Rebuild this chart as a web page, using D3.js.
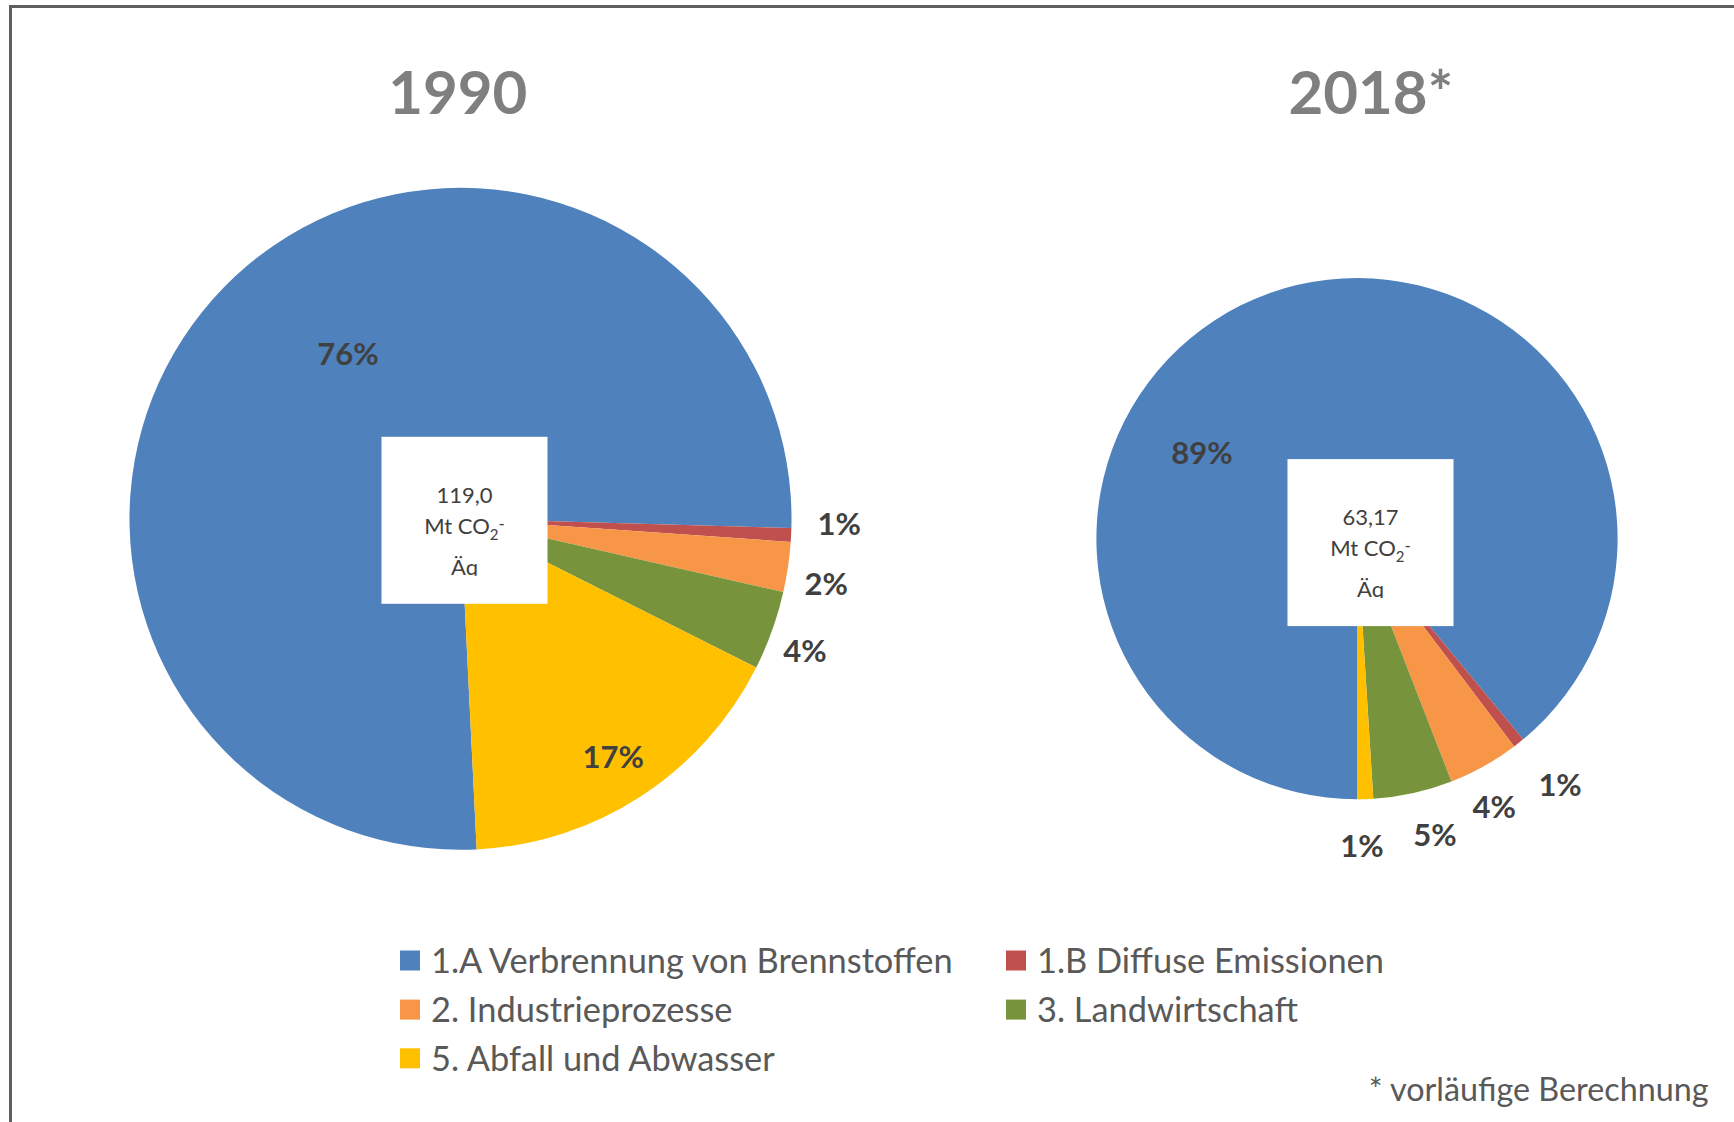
<!DOCTYPE html>
<html>
<head>
<meta charset="utf-8">
<script src="https://cdn.jsdelivr.net/npm/d3@7"></script>
<style>
  html, body { margin: 0; padding: 0; background: #ffffff; }
  svg { display: block; }
</style>
</head>
<body>
<svg id="chart" width="1734" height="1122"></svg>
<script>
// ---------------- data ----------------
const categories = [
  "1.A Verbrennung von Brennstoffen",
  "1.B Diffuse Emissionen",
  "2. Industrieprozesse",
  "3. Landwirtschaft",
  "5. Abfall und Abwasser"
];
const years = ["1990", "2018*"];
const values1990 = [90.7, 0.8, 2.9, 4.6, 20.0];     // Mt CO2-Äq
const values2018 = [56.22, 0.44, 2.78, 3.10, 0.63]; // Mt CO2-Äq
const totalLabels = ["119,0", "63,17"];
const unitLine = ["Mt CO", "2", "-"];
const unitLine2 = "Äq";
const footnote = "* vorläufige Berechnung";

// ---------------- styling / layout ----------------
const colors = ["#4f81bd", "#c0504d", "#f79646", "#77933c", "#ffc000"];
const FONT = "Lato, 'Open Sans', 'DejaVu Sans', sans-serif";
const deg = Math.PI / 180;

const pies = [
  { values: values1990, year: years[0], total: totalLabels[0],
    cx: 460.5, cy: 518.8, r: 331, start: 177.2,
    labelPos: [[0.603, 11.3], [1.144, -2.0], [1.122, 1.7], [1.115, 1.26], [0.856, 0.45]],
    boxDx: 4, boxDy: 1.5, titleX: 457.8 },
  { values: values2018, year: years[1], total: totalLabels[1],
    cx: 1357, cy: 538.6, r: 260.6, start: 180,
    labelPos: [[0.680, -41.3], [1.225, -1.15], [1.156, 2.1], [1.176, -2.3], [1.18, 0.87]],
    boxDx: 13.5, boxDy: 4, titleX: 1370.8 }
];

const svg = d3.select("#chart");
const defs = svg.append("defs");

// frame (top + left lines)
svg.append("line").attr("x1", 10.5).attr("x2", 1734).attr("y1", 6.5).attr("y2", 6.5)
  .attr("stroke", "#5f5f5f").attr("stroke-width", 3);
svg.append("line").attr("x1", 10.5).attr("x2", 10.5).attr("y1", 5).attr("y2", 1122)
  .attr("stroke", "#5f5f5f").attr("stroke-width", 3);

const color = d3.scaleOrdinal().domain(categories).range(colors);

pies.forEach((p, pi) => {
  const total = d3.sum(p.values);
  const pie = d3.pie().sort(null).value(d => d)
    .startAngle(p.start * deg).endAngle(p.start * deg + 2 * Math.PI);
  const arcs = pie(p.values);
  const arc = d3.arc().innerRadius(0).outerRadius(p.r);

  const g = svg.append("g").attr("transform", `translate(${p.cx},${p.cy})`);
  g.selectAll("path.slice").data(arcs).join("path")
    .attr("class", "slice")
    .attr("d", arc)
    .attr("fill", (d, i) => color(categories[i]));

  // percentage labels
  g.selectAll("text.pct").data(arcs).join("text")
    .attr("class", "pct")
    .attr("font-family", FONT)
    .attr("font-weight", "bold")
    .attr("font-size", 31)
    .attr("fill", "#404040")
    .attr("text-anchor", "middle")
    .each(function (d, i) {
      const mid = (d.startAngle + d.endAngle) / 2 + p.labelPos[i][1] * deg;
      const dist = p.labelPos[i][0] * p.r;
      d3.select(this)
        .attr("x", dist * Math.sin(mid))
        .attr("y", -dist * Math.cos(mid) + 11)
        .text(Math.round(d.value / total * 100) + "%");
    });

  // title
  svg.append("text")
    .attr("x", p.titleX).attr("y", 113.9)
    .attr("text-anchor", "middle")
    .attr("font-family", FONT).attr("font-weight", "bold")
    .attr("font-size", 60).attr("fill", "#7f7f7f")
    .text(p.year);

  // centre box
  const bx = p.cx + p.boxDx - 83, by = p.cy + p.boxDy - 83.5;
  svg.append("rect").attr("x", bx).attr("y", by).attr("width", 166).attr("height", 167)
    .attr("fill", "#ffffff");
  const clipId = "clip" + pi;
  defs.append("clipPath").attr("id", clipId).append("rect")
    .attr("x", bx).attr("y", by).attr("width", 166).attr("height", 139);
  const tg = svg.append("g").attr("clip-path", `url(#${clipId})`)
    .attr("font-family", FONT).attr("font-size", 22).attr("fill", "#404040")
    .attr("text-anchor", "middle");
  const tx = bx + 83;
  tg.append("text").attr("x", tx).attr("y", by + 66).text(p.total);
  const t2 = tg.append("text").attr("x", tx).attr("y", by + 97);
  t2.append("tspan").text(unitLine[0]);
  t2.append("tspan").attr("font-size", 15).attr("dy", 6).text(unitLine[1]);
  t2.append("tspan").attr("font-size", 17).attr("dy", -10).text(unitLine[2]);
  tg.append("text").attr("x", tx).attr("y", by + 138).text(unitLine2);
});

// legend
const legendCols = [400, 1006];
const legendRows = [960.5, 1009.6, 1058.3];
const legendOrder = [[0, 0, 0], [1, 1, 0], [2, 0, 1], [3, 1, 1], [4, 0, 2]];
const lg = svg.append("g").attr("font-family", FONT).attr("fill", "#595959");
// find font size such that the first entry spans ~522px
const probe = lg.append("text").attr("font-size", 30).text(categories[0]);
const legendFs = 30 * 522 / probe.node().getComputedTextLength();
probe.remove();
legendOrder.forEach(([ci, col, row]) => {
  const x = legendCols[col], yc = legendRows[row];
  lg.append("rect").attr("x", x).attr("y", yc - 10).attr("width", 20).attr("height", 20)
    .attr("fill", color(categories[ci]));
  lg.append("text").attr("x", x + 31).attr("y", yc + legendFs * 0.36)
    .attr("font-size", legendFs).text(categories[ci]);
});

// footnote
const fn = svg.append("text").attr("font-family", FONT).attr("fill", "#595959")
  .attr("font-size", 26).text(footnote);
const fnFs = 26 * 340 / fn.node().getComputedTextLength();
fn.attr("font-size", fnFs).attr("text-anchor", "end")
  .attr("x", 1708.6).attr("y", 1089 + fnFs * 0.36);
</script>
</body>
</html>
